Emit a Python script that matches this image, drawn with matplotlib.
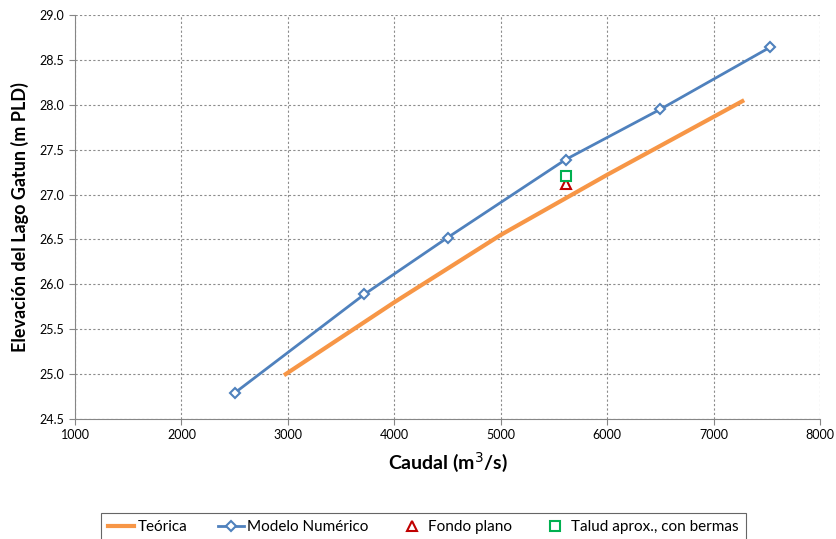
import matplotlib.pyplot as plt

plt.rcParams['font.family'] = ['Lato', 'DejaVu Sans']

# Teórica curve
teo_q = [2980, 4000, 5000, 6000, 7270]
teo_h = [25.00, 25.80, 26.55, 27.22, 28.04]

# Modelo Numérico
mod_q = [2500, 3720, 4500, 5610, 6500, 7530]
mod_h = [24.79, 25.89, 26.52, 27.39, 27.95, 28.64]

# single-point cases
fondo_q = [5610]
fondo_h = [27.12]
talud_q = [5610]
talud_h = [27.21]

fig = plt.figure(figsize=(8.37, 5.39), dpi=100)
ax = fig.add_axes([0.0896, 0.2226, 0.8901, 0.7496])

ax.plot(teo_q, teo_h, color='#f79646', lw=3, label='Teórica', zorder=3)
ax.plot(mod_q, mod_h, color='#4f81bd', lw=2, marker='D', ms=5.5,
        mfc='white', mec='#4f81bd', mew=1.5, label='Modelo Numérico', zorder=4)
ax.plot(fondo_q, fondo_h, ls='none', marker='^', ms=7, mfc='white',
        mec='#c00000', mew=1.5, label='Fondo plano', zorder=5)
ax.plot(talud_q, talud_h, ls='none', marker='s', ms=6.5, mfc='white',
        mec='#00b050', mew=1.5, label='Talud aprox., con bermas', zorder=5)

ax.set_xlim(1000, 8000)
ax.set_ylim(24.5, 29.0)
ax.set_xticks(range(1000, 8001, 1000))
ax.set_yticks([24.5 + 0.5 * i for i in range(10)])
ax.set_yticklabels(['%.1f' % (24.5 + 0.5 * i) for i in range(10)])
ax.tick_params(labelsize=9, direction='out', length=4, color='#868686')

ax.grid(True, color='#8c8c8c', ls=(0, (2, 2)), lw=0.8)
for s in ['top', 'right']:
    ax.spines[s].set_visible(False)
for s in ['left', 'bottom']:
    ax.spines[s].set_color('#868686')

ax.set_xlabel('Caudal (m$^3$/s)', fontsize=14, fontweight='bold', labelpad=6)
ax.set_ylabel('Elevación del Lago Gatun (m PLD)', fontsize=13, fontweight='bold', labelpad=8)

leg = fig.legend(loc='upper center', bbox_to_anchor=(0.506, 0.048), ncol=4,
                 fontsize=11, frameon=True, fancybox=False, edgecolor='#404040',
                 handlelength=1.7, handletextpad=0.2, columnspacing=2.0,
                 borderpad=0.45, borderaxespad=0)
leg.get_frame().set_linewidth(0.8)

fig.savefig('out.png', dpi=100)
